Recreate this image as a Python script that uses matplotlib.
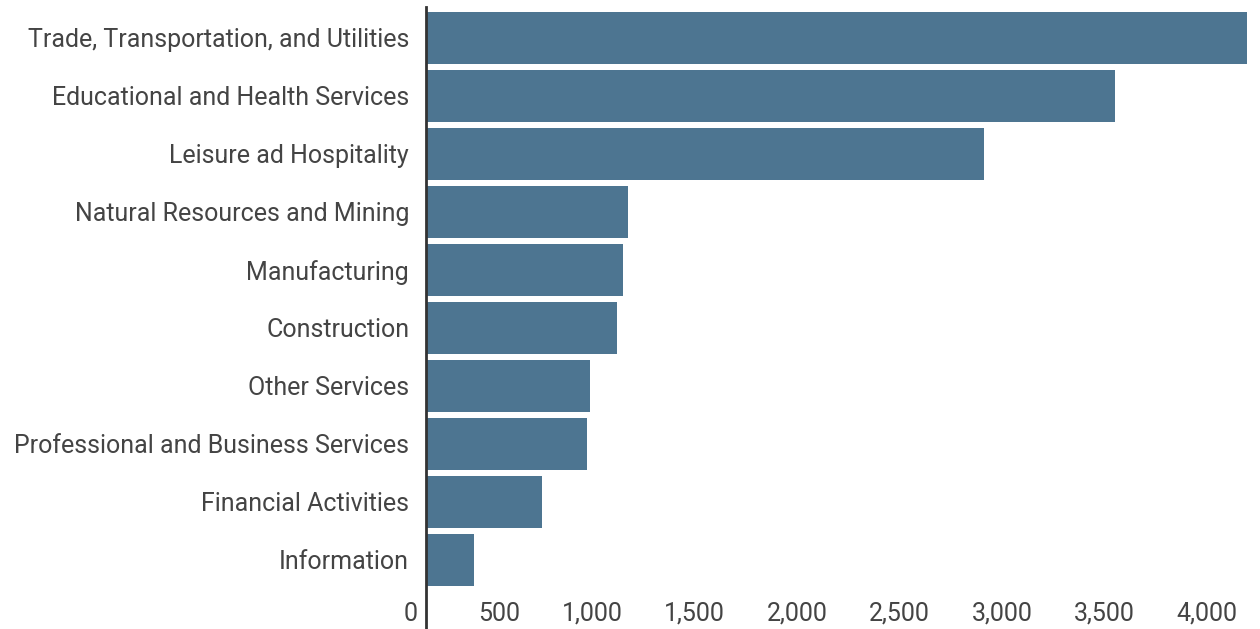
import matplotlib as mpl
from matplotlib import pyplot as plt
from matplotlib.transforms import ScaledTranslation

industries = [
    "Trade, Transportation, and Utilities",
    "Educational and Health Services",
    "Leisure ad Hospitality",
    "Natural Resources and Mining",
    "Manufacturing",
    "Construction",
    "Other Services",
    "Professional and Business Services",
    "Financial Activities",
    "Information",
]
values = [4010, 3365, 2725, 988, 962, 933, 801, 788, 566, 234]
xtick_values = [0, 500, 1000, 1500, 2000, 2500, 3000, 3500, 4000]
xtick_labels = ["0", "500", "1,000", "1,500", "2,000", "2,500", "3,000", "3,500", "4,000"]

mpl.rcParams['font.family'] = ['Roboto', 'DejaVu Sans']
mpl.rcParams['font.size'] = 15

fig = plt.figure(figsize=(12.6, 6.29), dpi=100)
ax = fig.add_axes([0.338, 0.0, 0.662, 0.989])

ax.barh(range(len(industries)), values, height=0.9, color="#4d7591")
ax.set_yticks(range(len(industries)))
ax.set_yticklabels(industries, color="#444444", fontsize=18)
ax.set_xticks(xtick_values)
ax.set_xticklabels(xtick_labels, color="#444444", ha="right", fontsize=18)
ax.set_xlim(0, 4072)
ax.set_ylim(10.19, -0.534)

ax.tick_params(axis='y', length=0, pad=12)
ax.tick_params(axis='x', length=0, pad=-19.5)
shift = ScaledTranslation(-8 / 100, 0, fig.dpi_scale_trans)
for lbl in ax.get_xticklabels():
    lbl.set_transform(lbl.get_transform() + shift)
for s in ["top", "right", "bottom"]:
    ax.spines[s].set_visible(False)
ax.spines["left"].set_color("#333333")
ax.spines["left"].set_linewidth(2)

fig.savefig("out.png", dpi=100)
